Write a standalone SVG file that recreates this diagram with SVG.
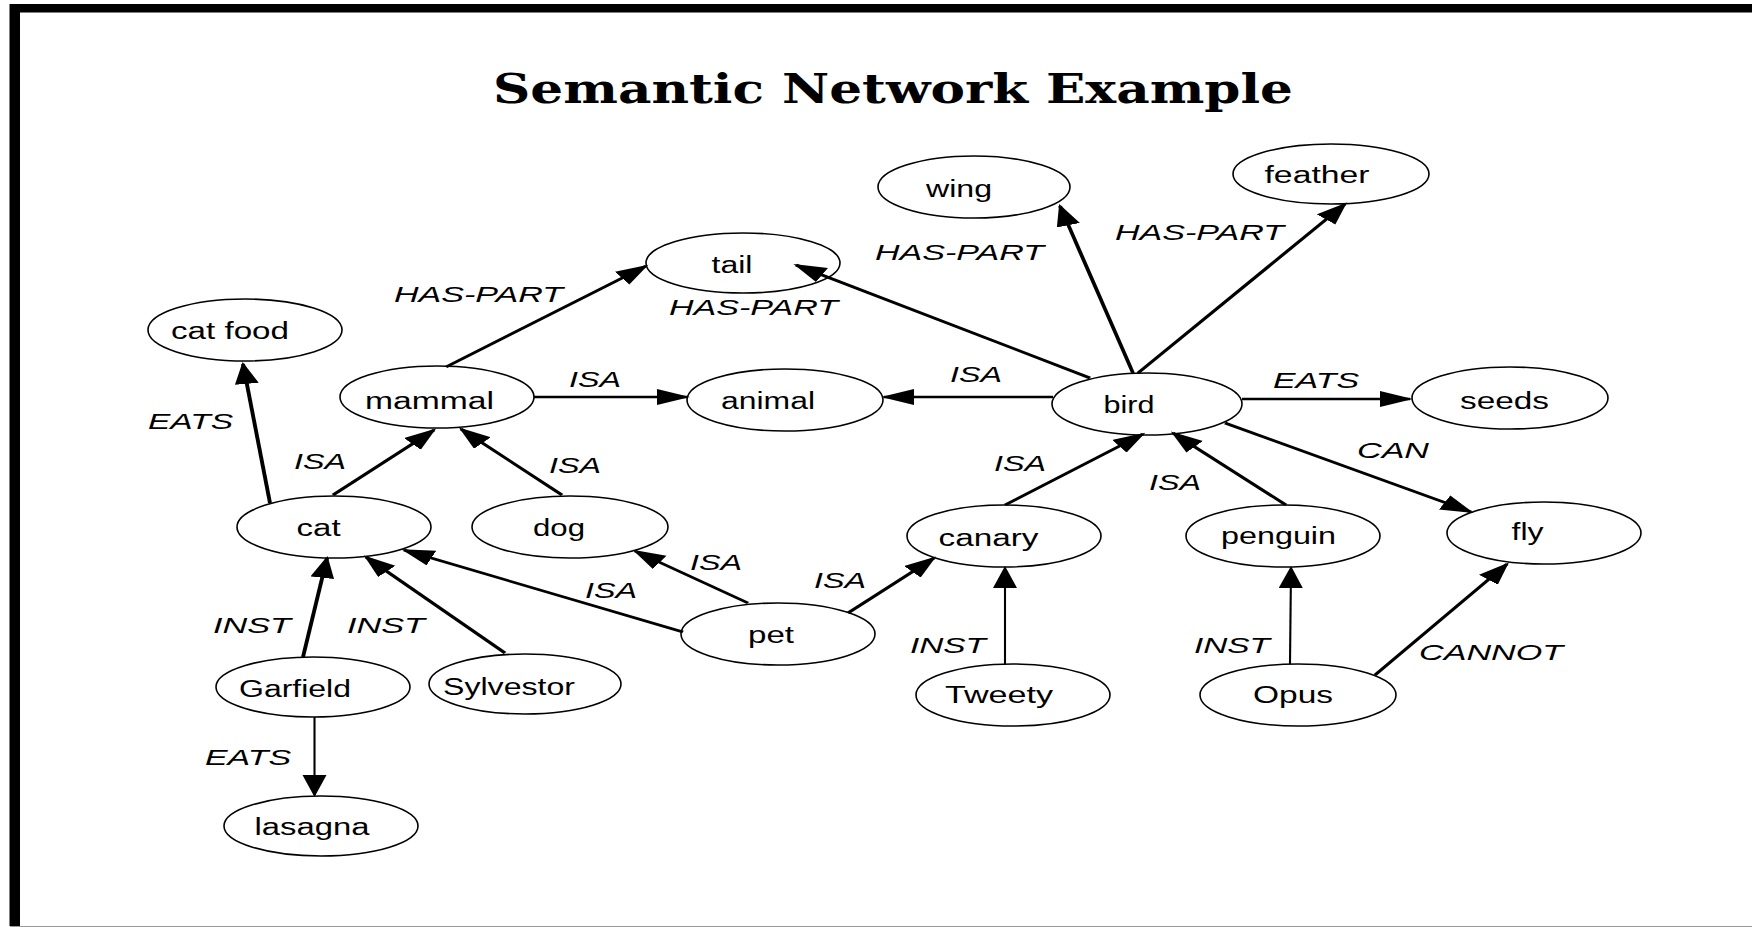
<svg xmlns="http://www.w3.org/2000/svg" width="1752" height="927" viewBox="0 0 1752 927">
<style>
.node ellipse{fill:none;stroke:#000;stroke-width:1.6}
.node text{font-family:"Liberation Sans",Arial,sans-serif;font-size:23px;fill:#000;text-anchor:middle}
.lbl{font-family:"Liberation Sans",Arial,sans-serif;font-size:22px;font-style:italic;fill:#000}
.edge{stroke:#000;stroke-width:2.6;fill:none;marker-end:url(#ah)}
.thin{stroke-width:1.4}
.title{font-family:"DejaVu Serif","Liberation Serif",serif;font-weight:bold;font-size:41px;fill:#000}
</style>
<defs>
<marker id="ah" markerUnits="userSpaceOnUse" markerWidth="24" markerHeight="18" refX="20" refY="8" orient="auto">
<path d="M0,0 L22,8 L0,16 z" fill="#000"/>
</marker>
</defs>
<rect x="0" y="0" width="1752" height="927" fill="#fff"/>
<g id="frame">
<rect x="10" y="4" width="1742" height="8.5" fill="#000"/>
<rect x="9.5" y="4" width="10.5" height="922" fill="#000"/>
<line x1="10" y1="926.5" x2="1752" y2="926.5" stroke="#999" stroke-width="1"/>
</g>
<text class="title" x="493" y="103" textLength="800" lengthAdjust="spacingAndGlyphs">Semantic Network Example</text>
<g id="connectors">
<g transform="scale(1.5 1)">
<line class="edge" x1="297.33" y1="367" x2="430.67" y2="266"/>
<line class="edge" x1="726.67" y1="378" x2="530.67" y2="265"/>
<line class="edge" x1="755.33" y1="373" x2="706.67" y2="206"/>
<line class="edge" x1="758.67" y1="373" x2="896.67" y2="204"/>
<line class="edge" x1="356" y1="397" x2="458" y2="397"/>
<line class="edge" x1="702" y1="397" x2="589.33" y2="397"/>
<line class="edge" x1="828" y1="399" x2="940" y2="399"/>
<line class="edge" x1="816.67" y1="423" x2="980.67" y2="512"/>
<line class="edge" x1="670" y1="505" x2="762" y2="434"/>
<line class="edge" x1="857.33" y1="505" x2="782" y2="433"/>
<line class="edge" x1="180" y1="503" x2="162" y2="364"/>
<line class="edge" x1="222" y1="495" x2="289.33" y2="430"/>
<line class="edge" x1="374.67" y1="495" x2="307.33" y2="429"/>
<line class="edge" x1="498.67" y1="603" x2="423.33" y2="551"/>
<line class="edge" x1="455.33" y1="632" x2="269.33" y2="550"/>
<line class="edge" x1="565.33" y1="613" x2="622.67" y2="558"/>
<line class="edge" x1="202" y1="657" x2="218" y2="558"/>
<line class="edge" x1="336.67" y1="653" x2="244" y2="557"/>
<line class="edge thin" x1="209.67" y1="717" x2="209.67" y2="795"/>
<line class="edge thin" x1="670" y1="664" x2="670" y2="568"/>
<line class="edge thin" x1="860" y1="664" x2="860.67" y2="568"/>
<line class="edge" x1="916.67" y1="675" x2="1004.67" y2="564"/>
</g>
<text class="lbl" x="394" y="302" textLength="169" lengthAdjust="spacingAndGlyphs">HAS-PART</text>
<text class="lbl" x="669" y="315" textLength="169" lengthAdjust="spacingAndGlyphs">HAS-PART</text>
<text class="lbl" x="875" y="260" textLength="169" lengthAdjust="spacingAndGlyphs">HAS-PART</text>
<text class="lbl" x="1115" y="240" textLength="169" lengthAdjust="spacingAndGlyphs">HAS-PART</text>
<text class="lbl" x="569" y="387" textLength="52" lengthAdjust="spacingAndGlyphs">ISA</text>
<text class="lbl" x="950" y="382" textLength="52" lengthAdjust="spacingAndGlyphs">ISA</text>
<text class="lbl" x="1273" y="388" textLength="86" lengthAdjust="spacingAndGlyphs">EATS</text>
<text class="lbl" x="1357" y="458" textLength="72" lengthAdjust="spacingAndGlyphs">CAN</text>
<text class="lbl" x="994" y="471" textLength="52" lengthAdjust="spacingAndGlyphs">ISA</text>
<text class="lbl" x="1149" y="490" textLength="52" lengthAdjust="spacingAndGlyphs">ISA</text>
<text class="lbl" x="148" y="429" textLength="85" lengthAdjust="spacingAndGlyphs">EATS</text>
<text class="lbl" x="294" y="469" textLength="52" lengthAdjust="spacingAndGlyphs">ISA</text>
<text class="lbl" x="549" y="473" textLength="52" lengthAdjust="spacingAndGlyphs">ISA</text>
<text class="lbl" x="690" y="570" textLength="52" lengthAdjust="spacingAndGlyphs">ISA</text>
<text class="lbl" x="585" y="598" textLength="52" lengthAdjust="spacingAndGlyphs">ISA</text>
<text class="lbl" x="814" y="588" textLength="52" lengthAdjust="spacingAndGlyphs">ISA</text>
<text class="lbl" x="213" y="633" textLength="78" lengthAdjust="spacingAndGlyphs">INST</text>
<text class="lbl" x="347" y="633" textLength="78" lengthAdjust="spacingAndGlyphs">INST</text>
<text class="lbl" x="205" y="765" textLength="86" lengthAdjust="spacingAndGlyphs">EATS</text>
<text class="lbl" x="910" y="653" textLength="76" lengthAdjust="spacingAndGlyphs">INST</text>
<text class="lbl" x="1194" y="653" textLength="76" lengthAdjust="spacingAndGlyphs">INST</text>
<text class="lbl" x="1419" y="660" textLength="144" lengthAdjust="spacingAndGlyphs">CANNOT</text>
</g>
<g id="wing" class="node"><ellipse cx="974" cy="187" rx="96" ry="31"/><text x="959" y="197" textLength="66" lengthAdjust="spacingAndGlyphs">wing</text></g>
<g id="tail" class="node"><ellipse cx="743" cy="263" rx="97" ry="30"/><text x="732" y="273" textLength="41" lengthAdjust="spacingAndGlyphs">tail</text></g>
<g id="feather" class="node"><ellipse cx="1331" cy="174" rx="98" ry="30"/><text x="1317" y="183" textLength="105" lengthAdjust="spacingAndGlyphs">feather</text></g>
<g id="catfood" class="node"><ellipse cx="245" cy="330" rx="97" ry="31"/><text x="230" y="339" textLength="118" lengthAdjust="spacingAndGlyphs">cat food</text></g>
<g id="mammal" class="node"><ellipse cx="437" cy="397" rx="97" ry="31"/><text x="429.5" y="409" textLength="129" lengthAdjust="spacingAndGlyphs">mammal</text></g>
<g id="animal" class="node"><ellipse cx="785" cy="400" rx="98" ry="31"/><text x="768" y="409" textLength="94" lengthAdjust="spacingAndGlyphs">animal</text></g>
<g id="bird" class="node"><ellipse cx="1147" cy="404" rx="95" ry="31"/><text x="1129" y="413" textLength="51" lengthAdjust="spacingAndGlyphs">bird</text></g>
<g id="seeds" class="node"><ellipse cx="1510" cy="398" rx="98" ry="31"/><text x="1504.5" y="409" textLength="89" lengthAdjust="spacingAndGlyphs">seeds</text></g>
<g id="cat" class="node"><ellipse cx="334" cy="527" rx="97" ry="31"/><text x="318.6" y="536" textLength="44" lengthAdjust="spacingAndGlyphs">cat</text></g>
<g id="dog" class="node"><ellipse cx="570" cy="527" rx="98" ry="31"/><text x="559" y="536" textLength="52" lengthAdjust="spacingAndGlyphs">dog</text></g>
<g id="canary" class="node"><ellipse cx="1004" cy="536" rx="97" ry="31"/><text x="988.5" y="546" textLength="100" lengthAdjust="spacingAndGlyphs">canary</text></g>
<g id="penguin" class="node"><ellipse cx="1283" cy="536" rx="97" ry="31"/><text x="1278.5" y="544" textLength="115" lengthAdjust="spacingAndGlyphs">penguin</text></g>
<g id="fly" class="node"><ellipse cx="1544" cy="533" rx="97" ry="31"/><text x="1527.6" y="540" textLength="32" lengthAdjust="spacingAndGlyphs">fly</text></g>
<g id="pet" class="node"><ellipse cx="778" cy="634" rx="97" ry="31"/><text x="771" y="643" textLength="46" lengthAdjust="spacingAndGlyphs">pet</text></g>
<g id="garfield" class="node"><ellipse cx="313" cy="687" rx="97" ry="30"/><text x="295" y="697" textLength="112" lengthAdjust="spacingAndGlyphs">Garfield</text></g>
<g id="sylvestor" class="node"><ellipse cx="525" cy="684" rx="96" ry="30"/><text x="509" y="695" textLength="132" lengthAdjust="spacingAndGlyphs">Sylvestor</text></g>
<g id="lasagna" class="node"><ellipse cx="321" cy="826" rx="97" ry="30"/><text x="312" y="835" textLength="115" lengthAdjust="spacingAndGlyphs">lasagna</text></g>
<g id="tweety" class="node"><ellipse cx="1013" cy="695" rx="97" ry="31"/><text x="999" y="703" textLength="108" lengthAdjust="spacingAndGlyphs">Tweety</text></g>
<g id="opus" class="node"><ellipse cx="1298" cy="695" rx="98" ry="31"/><text x="1293" y="703" textLength="80" lengthAdjust="spacingAndGlyphs">Opus</text></g>
</svg>
